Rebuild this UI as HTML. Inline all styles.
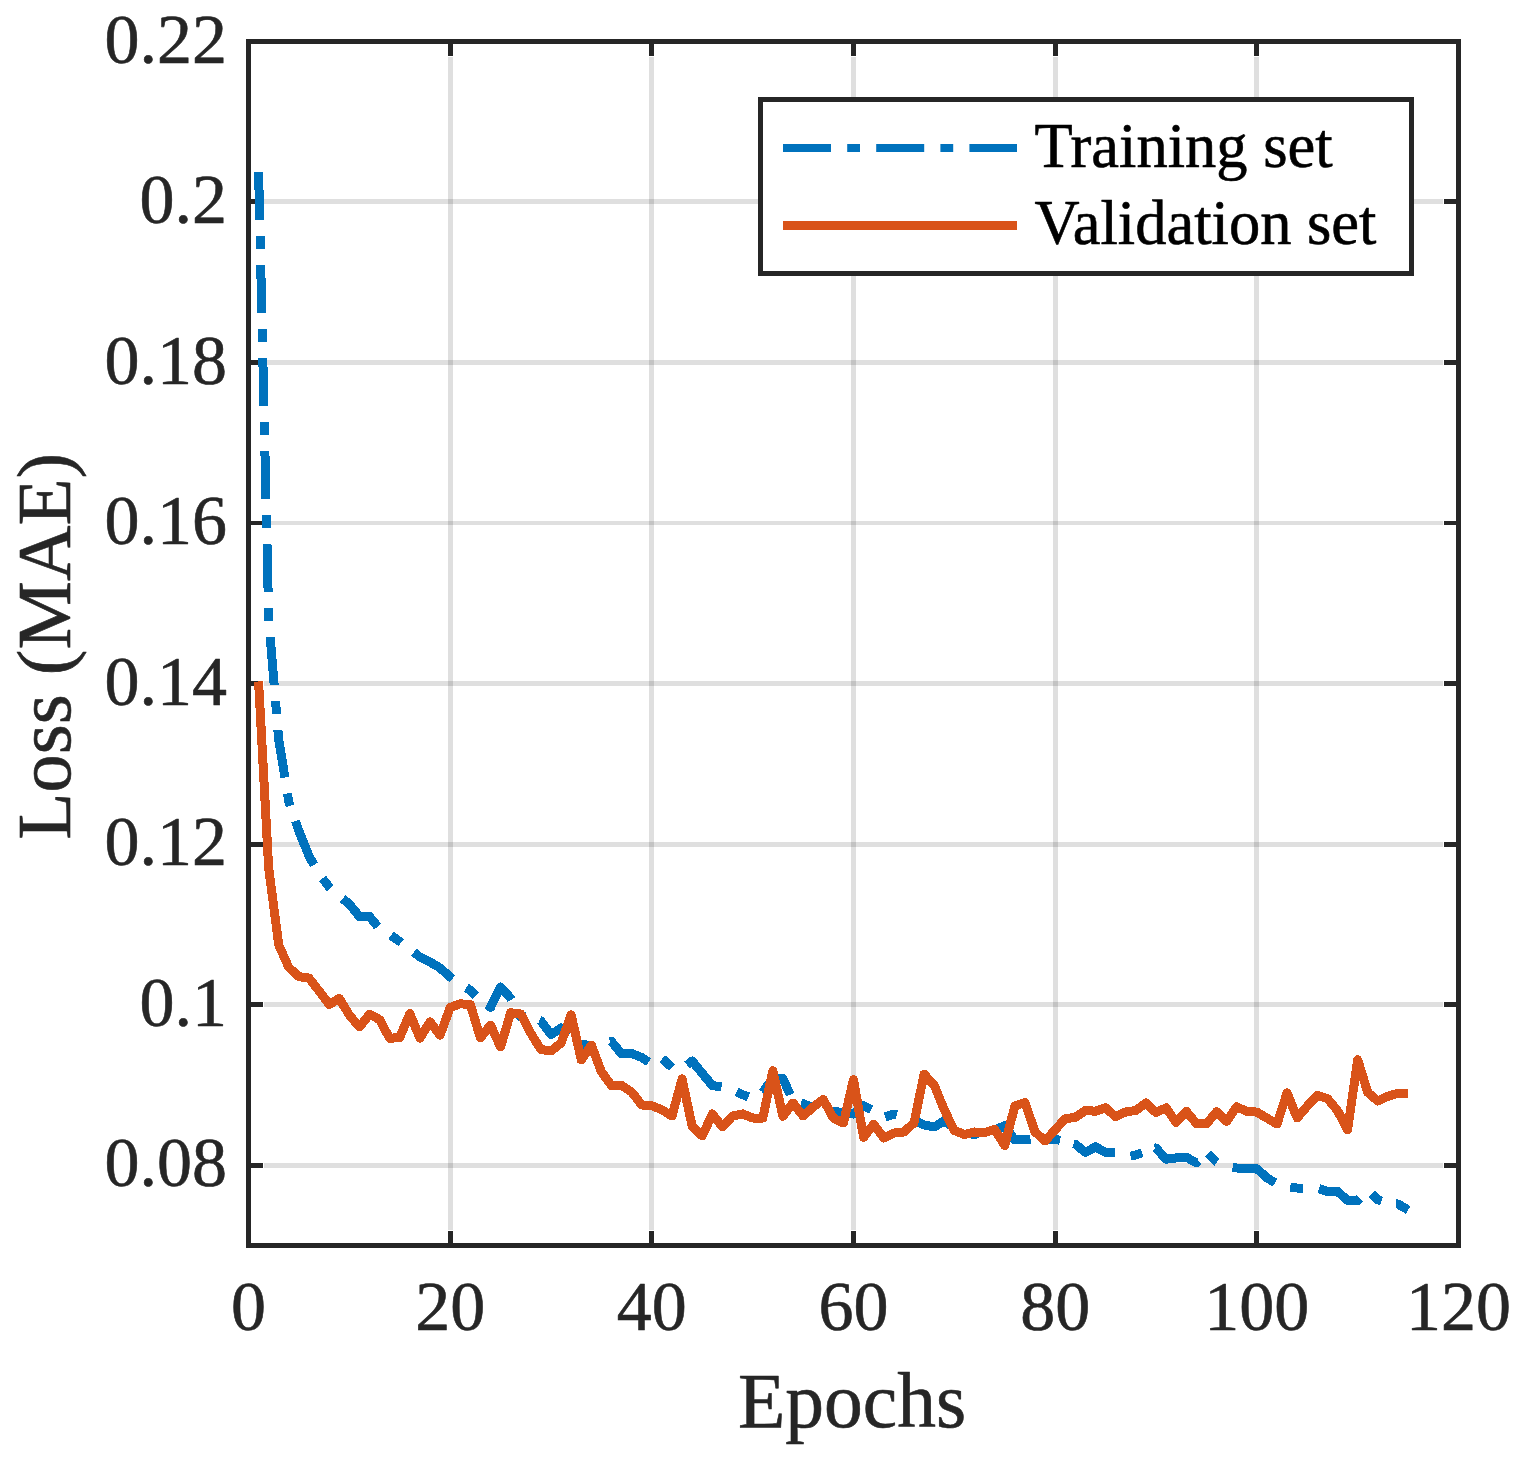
<!DOCTYPE html>
<html><head><meta charset="utf-8"><title>Loss curve</title>
<style>html,body{margin:0;padding:0;background:#fff;}svg{display:block;}</style>
</head><body>
<svg width="1519" height="1457" viewBox="0 0 1519 1457">
<rect x="0" y="0" width="1519" height="1457" fill="#fff"/>
<g fill="#262626" fill-opacity="0.15" shape-rendering="crispEdges"><rect x="264" y="199" width="1179" height="5"/><rect x="264" y="360" width="1179" height="5"/><rect x="264" y="521" width="1179" height="4"/><rect x="264" y="681" width="1179" height="5"/><rect x="264" y="842" width="1179" height="5"/><rect x="264" y="1002" width="1179" height="5"/><rect x="264" y="1163" width="1179" height="5"/><rect x="448" y="57" width="5" height="1173"/><rect x="649" y="57" width="5" height="1173"/><rect x="851" y="57" width="5" height="1173"/><rect x="1053" y="57" width="5" height="1173"/><rect x="1254" y="57" width="5" height="1173"/></g>
<g fill="#262626" shape-rendering="crispEdges"><rect x="448" y="44" width="5" height="12"/><rect x="448" y="1231" width="5" height="12"/><rect x="649" y="44" width="5" height="12"/><rect x="649" y="1231" width="5" height="12"/><rect x="851" y="44" width="5" height="12"/><rect x="851" y="1231" width="5" height="12"/><rect x="1053" y="44" width="5" height="12"/><rect x="1053" y="1231" width="5" height="12"/><rect x="1254" y="44" width="5" height="12"/><rect x="1254" y="1231" width="5" height="12"/><rect x="251" y="199" width="12" height="5"/><rect x="1444" y="199" width="12" height="5"/><rect x="251" y="360" width="12" height="5"/><rect x="1444" y="360" width="12" height="5"/><rect x="251" y="521" width="12" height="4"/><rect x="1444" y="521" width="12" height="4"/><rect x="251" y="681" width="12" height="5"/><rect x="1444" y="681" width="12" height="5"/><rect x="251" y="842" width="12" height="5"/><rect x="1444" y="842" width="12" height="5"/><rect x="251" y="1002" width="12" height="5"/><rect x="1444" y="1002" width="12" height="5"/><rect x="251" y="1163" width="12" height="5"/><rect x="1444" y="1163" width="12" height="5"/><rect x="246" y="39" width="1215" height="5"/><rect x="246" y="1243" width="1215" height="5"/><rect x="246" y="39" width="5" height="1209"/><rect x="1456" y="39" width="5" height="1209"/></g>
<path d="M258.6 172.0L259.7 219.8M260.0 235.9L260.3 248.7M260.7 264.9L261.8 313.0M262.1 329.2L262.4 342.0M262.8 358.2L263.9 406.0M264.2 422.2L264.5 435.0M264.9 451.1L266.0 499.0M266.3 515.1L266.6 527.9M267.0 544.0L268.1 591.9M268.4 608.1L268.7 618.0L268.9 620.9M270.2 637.1L274.2 684.9M275.5 701.1L276.6 713.9M277.9 730.0L278.8 740.0L284.9 777.5M287.5 793.5L288.8 802.0L290.2 805.9M295.5 821.1L298.9 831.0L309.0 856.0L314.0 864.9M322.5 878.4L329.2 887.0L330.5 888.2M342.7 898.7L349.3 904.0L359.4 916.5L369.5 916.5L377.7 926.6M390.9 935.4L399.8 941.5L401.2 942.6M413.9 952.2L419.9 957.0L430.0 962.0L440.1 968.0L450.2 977.0L452.5 978.6M466.3 987.8L470.3 990.3L475.8 995.7M487.1 1005.1L490.5 1007.5L500.6 987.0L510.7 998.3L511.4 999.6M518.0 1011.9L520.8 1017.0L526.1 1016.9M539.4 1020.4L540.9 1021.0L551.0 1034.7L561.1 1027.9L569.8 1033.8M581.9 1044.4L591.3 1045.7L594.6 1045.5M610.3 1041.9L611.5 1041.5L621.6 1054.0L631.7 1053.5L641.8 1057.5L648.7 1062.1M662.3 1058.7L671.9 1067.4M687.1 1065.0L692.2 1061.0L702.2 1073.3L712.3 1085.5L721.6 1086.9M736.8 1091.8L742.6 1094.6L748.4 1096.9M762.4 1092.5L762.8 1092.3L772.8 1078.0L782.9 1078.5L790.2 1094.7M801.0 1103.0L803.1 1103.5L812.4 1107.7M828.1 1110.6L833.3 1111.2L843.4 1112.6L853.5 1114.0L863.6 1105.7L871.3 1109.8M885.1 1117.0L893.8 1114.0L896.9 1114.8M911.6 1119.3L914.0 1120.1L924.1 1124.9L934.2 1127.0L944.2 1120.8L952.3 1126.6M966.1 1133.3L974.5 1134.5L978.1 1133.6M993.2 1130.3L994.7 1130.0L1004.8 1125.6L1014.8 1140.0L1024.9 1139.3L1030.5 1139.1M1047.8 1139.8L1055.2 1139.3L1060.0 1140.3M1073.7 1143.7L1075.3 1144.1L1085.4 1152.4L1095.5 1146.9L1105.6 1152.4L1115.0 1153.0M1130.5 1156.3L1135.8 1155.0L1142.0 1152.9M1155.1 1148.3L1156.0 1148.0L1166.1 1159.2L1176.2 1157.9L1186.2 1157.2L1196.3 1162.7L1198.0 1161.0M1207.9 1153.5L1216.5 1162.0L1216.8 1162.2M1232.6 1167.6L1236.7 1168.0L1246.8 1168.7L1256.8 1168.7L1266.9 1177.8L1275.1 1182.8M1290.3 1187.3L1297.2 1188.0L1303.0 1188.0M1319.0 1188.6L1327.4 1191.4L1337.5 1191.4L1347.6 1200.4L1357.7 1200.4L1359.9 1198.2M1371.6 1193.9L1377.8 1199.7L1381.5 1201.1M1396.1 1203.9L1398.0 1204.0L1408.1 1210.0" fill="none" stroke="#0072BD" stroke-width="9" stroke-linejoin="round" stroke-linecap="butt" shape-rendering="crispEdges"/>
<path d="M274.25 740.00a4.5 4.5 0 1 0 9.0 0a4.5 4.5 0 1 0 -9.0 0M294.42 831.00a4.5 4.5 0 1 0 9.0 0a4.5 4.5 0 1 0 -9.0 0M304.50 856.00a4.5 4.5 0 1 0 9.0 0a4.5 4.5 0 1 0 -9.0 0M344.83 904.00a4.5 4.5 0 1 0 9.0 0a4.5 4.5 0 1 0 -9.0 0M354.92 916.50a4.5 4.5 0 1 0 9.0 0a4.5 4.5 0 1 0 -9.0 0M365.00 916.50a4.5 4.5 0 1 0 9.0 0a4.5 4.5 0 1 0 -9.0 0M415.42 957.00a4.5 4.5 0 1 0 9.0 0a4.5 4.5 0 1 0 -9.0 0M425.50 962.00a4.5 4.5 0 1 0 9.0 0a4.5 4.5 0 1 0 -9.0 0M435.58 968.00a4.5 4.5 0 1 0 9.0 0a4.5 4.5 0 1 0 -9.0 0M465.83 990.30a4.5 4.5 0 1 0 9.0 0a4.5 4.5 0 1 0 -9.0 0M496.08 987.00a4.5 4.5 0 1 0 9.0 0a4.5 4.5 0 1 0 -9.0 0M516.25 1017.00a4.5 4.5 0 1 0 9.0 0a4.5 4.5 0 1 0 -9.0 0M546.50 1034.70a4.5 4.5 0 1 0 9.0 0a4.5 4.5 0 1 0 -9.0 0M556.58 1027.90a4.5 4.5 0 1 0 9.0 0a4.5 4.5 0 1 0 -9.0 0M617.08 1054.00a4.5 4.5 0 1 0 9.0 0a4.5 4.5 0 1 0 -9.0 0M627.17 1053.50a4.5 4.5 0 1 0 9.0 0a4.5 4.5 0 1 0 -9.0 0M637.25 1057.50a4.5 4.5 0 1 0 9.0 0a4.5 4.5 0 1 0 -9.0 0M687.67 1061.00a4.5 4.5 0 1 0 9.0 0a4.5 4.5 0 1 0 -9.0 0M697.75 1073.30a4.5 4.5 0 1 0 9.0 0a4.5 4.5 0 1 0 -9.0 0M707.83 1085.50a4.5 4.5 0 1 0 9.0 0a4.5 4.5 0 1 0 -9.0 0M738.08 1094.60a4.5 4.5 0 1 0 9.0 0a4.5 4.5 0 1 0 -9.0 0M768.33 1078.00a4.5 4.5 0 1 0 9.0 0a4.5 4.5 0 1 0 -9.0 0M778.42 1078.50a4.5 4.5 0 1 0 9.0 0a4.5 4.5 0 1 0 -9.0 0M828.83 1111.20a4.5 4.5 0 1 0 9.0 0a4.5 4.5 0 1 0 -9.0 0M838.92 1112.60a4.5 4.5 0 1 0 9.0 0a4.5 4.5 0 1 0 -9.0 0M849.00 1114.00a4.5 4.5 0 1 0 9.0 0a4.5 4.5 0 1 0 -9.0 0M859.08 1105.70a4.5 4.5 0 1 0 9.0 0a4.5 4.5 0 1 0 -9.0 0M919.58 1124.90a4.5 4.5 0 1 0 9.0 0a4.5 4.5 0 1 0 -9.0 0M929.67 1127.00a4.5 4.5 0 1 0 9.0 0a4.5 4.5 0 1 0 -9.0 0M939.75 1120.80a4.5 4.5 0 1 0 9.0 0a4.5 4.5 0 1 0 -9.0 0M1000.25 1125.60a4.5 4.5 0 1 0 9.0 0a4.5 4.5 0 1 0 -9.0 0M1010.33 1140.00a4.5 4.5 0 1 0 9.0 0a4.5 4.5 0 1 0 -9.0 0M1020.42 1139.30a4.5 4.5 0 1 0 9.0 0a4.5 4.5 0 1 0 -9.0 0M1050.67 1139.30a4.5 4.5 0 1 0 9.0 0a4.5 4.5 0 1 0 -9.0 0M1080.92 1152.40a4.5 4.5 0 1 0 9.0 0a4.5 4.5 0 1 0 -9.0 0M1091.00 1146.90a4.5 4.5 0 1 0 9.0 0a4.5 4.5 0 1 0 -9.0 0M1101.08 1152.40a4.5 4.5 0 1 0 9.0 0a4.5 4.5 0 1 0 -9.0 0M1131.33 1155.00a4.5 4.5 0 1 0 9.0 0a4.5 4.5 0 1 0 -9.0 0M1161.58 1159.20a4.5 4.5 0 1 0 9.0 0a4.5 4.5 0 1 0 -9.0 0M1171.67 1157.90a4.5 4.5 0 1 0 9.0 0a4.5 4.5 0 1 0 -9.0 0M1181.75 1157.20a4.5 4.5 0 1 0 9.0 0a4.5 4.5 0 1 0 -9.0 0M1242.25 1168.70a4.5 4.5 0 1 0 9.0 0a4.5 4.5 0 1 0 -9.0 0M1252.33 1168.70a4.5 4.5 0 1 0 9.0 0a4.5 4.5 0 1 0 -9.0 0M1262.42 1177.80a4.5 4.5 0 1 0 9.0 0a4.5 4.5 0 1 0 -9.0 0M1292.67 1188.00a4.5 4.5 0 1 0 9.0 0a4.5 4.5 0 1 0 -9.0 0M1322.92 1191.40a4.5 4.5 0 1 0 9.0 0a4.5 4.5 0 1 0 -9.0 0M1333.00 1191.40a4.5 4.5 0 1 0 9.0 0a4.5 4.5 0 1 0 -9.0 0M1343.08 1200.40a4.5 4.5 0 1 0 9.0 0a4.5 4.5 0 1 0 -9.0 0" fill="#0072BD" shape-rendering="crispEdges"/>
<polyline points="258.58,681.50 268.67,868.00 278.75,945.00 288.83,967.50 298.92,976.60 309.00,978.10 319.08,991.00 329.17,1004.50 339.25,998.50 349.33,1015.00 359.42,1027.00 369.50,1014.30 379.58,1019.60 389.67,1038.30 399.75,1037.50 409.83,1013.60 419.92,1038.20 430.00,1021.90 440.08,1035.20 450.17,1007.50 460.25,1003.80 470.33,1004.50 480.42,1038.00 490.50,1025.10 500.58,1047.00 510.67,1012.80 520.75,1014.00 530.83,1033.30 540.92,1049.50 551.00,1051.00 561.08,1043.00 571.17,1014.80 581.25,1060.00 591.33,1045.00 601.42,1071.80 611.50,1085.50 621.58,1085.50 631.67,1092.00 641.75,1105.00 651.83,1105.70 661.92,1109.80 672.00,1116.00 682.08,1078.90 692.17,1126.30 702.25,1136.00 712.33,1113.90 722.42,1127.00 732.50,1116.00 742.58,1113.90 752.67,1118.00 762.75,1118.00 772.83,1070.70 782.92,1116.30 793.00,1103.00 803.08,1116.00 813.17,1107.10 823.25,1099.50 833.33,1118.00 843.42,1123.00 853.50,1079.60 863.58,1137.30 873.67,1124.20 883.75,1138.00 893.83,1133.00 903.92,1132.00 914.00,1122.90 924.08,1074.20 934.17,1085.10 944.25,1109.80 954.33,1130.50 964.42,1134.50 974.50,1132.00 984.58,1132.50 994.67,1129.50 1004.75,1145.40 1014.83,1106.00 1024.92,1102.50 1035.00,1131.80 1045.08,1141.00 1055.17,1129.70 1065.25,1118.70 1075.33,1117.40 1085.42,1110.50 1095.50,1111.20 1105.58,1107.80 1115.67,1116.70 1125.75,1111.90 1135.83,1110.50 1145.92,1103.00 1156.00,1112.60 1166.08,1107.80 1176.17,1122.50 1186.25,1111.20 1196.33,1123.50 1206.42,1124.00 1216.50,1111.80 1226.58,1121.40 1236.67,1106.80 1246.75,1111.40 1256.83,1112.10 1266.92,1118.10 1277.00,1124.00 1287.08,1092.80 1297.17,1118.00 1307.25,1106.10 1317.33,1095.50 1327.42,1098.50 1337.50,1110.60 1347.58,1130.00 1357.67,1059.80 1367.75,1092.50 1377.83,1101.00 1387.92,1096.30 1398.00,1093.20 1408.08,1093.20" fill="none" stroke="#D95319" stroke-width="9" stroke-linejoin="round" stroke-linecap="butt" shape-rendering="crispEdges"/>
<path d="M264.17 868.00a4.5 4.5 0 1 0 9.0 0a4.5 4.5 0 1 0 -9.0 0M274.25 945.00a4.5 4.5 0 1 0 9.0 0a4.5 4.5 0 1 0 -9.0 0M284.33 967.50a4.5 4.5 0 1 0 9.0 0a4.5 4.5 0 1 0 -9.0 0M294.42 976.60a4.5 4.5 0 1 0 9.0 0a4.5 4.5 0 1 0 -9.0 0M304.50 978.10a4.5 4.5 0 1 0 9.0 0a4.5 4.5 0 1 0 -9.0 0M314.58 991.00a4.5 4.5 0 1 0 9.0 0a4.5 4.5 0 1 0 -9.0 0M324.67 1004.50a4.5 4.5 0 1 0 9.0 0a4.5 4.5 0 1 0 -9.0 0M334.75 998.50a4.5 4.5 0 1 0 9.0 0a4.5 4.5 0 1 0 -9.0 0M344.83 1015.00a4.5 4.5 0 1 0 9.0 0a4.5 4.5 0 1 0 -9.0 0M354.92 1027.00a4.5 4.5 0 1 0 9.0 0a4.5 4.5 0 1 0 -9.0 0M365.00 1014.30a4.5 4.5 0 1 0 9.0 0a4.5 4.5 0 1 0 -9.0 0M375.08 1019.60a4.5 4.5 0 1 0 9.0 0a4.5 4.5 0 1 0 -9.0 0M385.17 1038.30a4.5 4.5 0 1 0 9.0 0a4.5 4.5 0 1 0 -9.0 0M395.25 1037.50a4.5 4.5 0 1 0 9.0 0a4.5 4.5 0 1 0 -9.0 0M405.33 1013.60a4.5 4.5 0 1 0 9.0 0a4.5 4.5 0 1 0 -9.0 0M415.42 1038.20a4.5 4.5 0 1 0 9.0 0a4.5 4.5 0 1 0 -9.0 0M425.50 1021.90a4.5 4.5 0 1 0 9.0 0a4.5 4.5 0 1 0 -9.0 0M435.58 1035.20a4.5 4.5 0 1 0 9.0 0a4.5 4.5 0 1 0 -9.0 0M445.67 1007.50a4.5 4.5 0 1 0 9.0 0a4.5 4.5 0 1 0 -9.0 0M455.75 1003.80a4.5 4.5 0 1 0 9.0 0a4.5 4.5 0 1 0 -9.0 0M465.83 1004.50a4.5 4.5 0 1 0 9.0 0a4.5 4.5 0 1 0 -9.0 0M475.92 1038.00a4.5 4.5 0 1 0 9.0 0a4.5 4.5 0 1 0 -9.0 0M486.00 1025.10a4.5 4.5 0 1 0 9.0 0a4.5 4.5 0 1 0 -9.0 0M496.08 1047.00a4.5 4.5 0 1 0 9.0 0a4.5 4.5 0 1 0 -9.0 0M506.17 1012.80a4.5 4.5 0 1 0 9.0 0a4.5 4.5 0 1 0 -9.0 0M516.25 1014.00a4.5 4.5 0 1 0 9.0 0a4.5 4.5 0 1 0 -9.0 0M526.33 1033.30a4.5 4.5 0 1 0 9.0 0a4.5 4.5 0 1 0 -9.0 0M536.42 1049.50a4.5 4.5 0 1 0 9.0 0a4.5 4.5 0 1 0 -9.0 0M546.50 1051.00a4.5 4.5 0 1 0 9.0 0a4.5 4.5 0 1 0 -9.0 0M556.58 1043.00a4.5 4.5 0 1 0 9.0 0a4.5 4.5 0 1 0 -9.0 0M566.67 1014.80a4.5 4.5 0 1 0 9.0 0a4.5 4.5 0 1 0 -9.0 0M576.75 1060.00a4.5 4.5 0 1 0 9.0 0a4.5 4.5 0 1 0 -9.0 0M586.83 1045.00a4.5 4.5 0 1 0 9.0 0a4.5 4.5 0 1 0 -9.0 0M596.92 1071.80a4.5 4.5 0 1 0 9.0 0a4.5 4.5 0 1 0 -9.0 0M607.00 1085.50a4.5 4.5 0 1 0 9.0 0a4.5 4.5 0 1 0 -9.0 0M617.08 1085.50a4.5 4.5 0 1 0 9.0 0a4.5 4.5 0 1 0 -9.0 0M627.17 1092.00a4.5 4.5 0 1 0 9.0 0a4.5 4.5 0 1 0 -9.0 0M637.25 1105.00a4.5 4.5 0 1 0 9.0 0a4.5 4.5 0 1 0 -9.0 0M647.33 1105.70a4.5 4.5 0 1 0 9.0 0a4.5 4.5 0 1 0 -9.0 0M657.42 1109.80a4.5 4.5 0 1 0 9.0 0a4.5 4.5 0 1 0 -9.0 0M667.50 1116.00a4.5 4.5 0 1 0 9.0 0a4.5 4.5 0 1 0 -9.0 0M677.58 1078.90a4.5 4.5 0 1 0 9.0 0a4.5 4.5 0 1 0 -9.0 0M687.67 1126.30a4.5 4.5 0 1 0 9.0 0a4.5 4.5 0 1 0 -9.0 0M697.75 1136.00a4.5 4.5 0 1 0 9.0 0a4.5 4.5 0 1 0 -9.0 0M707.83 1113.90a4.5 4.5 0 1 0 9.0 0a4.5 4.5 0 1 0 -9.0 0M717.92 1127.00a4.5 4.5 0 1 0 9.0 0a4.5 4.5 0 1 0 -9.0 0M728.00 1116.00a4.5 4.5 0 1 0 9.0 0a4.5 4.5 0 1 0 -9.0 0M738.08 1113.90a4.5 4.5 0 1 0 9.0 0a4.5 4.5 0 1 0 -9.0 0M748.17 1118.00a4.5 4.5 0 1 0 9.0 0a4.5 4.5 0 1 0 -9.0 0M758.25 1118.00a4.5 4.5 0 1 0 9.0 0a4.5 4.5 0 1 0 -9.0 0M768.33 1070.70a4.5 4.5 0 1 0 9.0 0a4.5 4.5 0 1 0 -9.0 0M778.42 1116.30a4.5 4.5 0 1 0 9.0 0a4.5 4.5 0 1 0 -9.0 0M788.50 1103.00a4.5 4.5 0 1 0 9.0 0a4.5 4.5 0 1 0 -9.0 0M798.58 1116.00a4.5 4.5 0 1 0 9.0 0a4.5 4.5 0 1 0 -9.0 0M808.67 1107.10a4.5 4.5 0 1 0 9.0 0a4.5 4.5 0 1 0 -9.0 0M818.75 1099.50a4.5 4.5 0 1 0 9.0 0a4.5 4.5 0 1 0 -9.0 0M828.83 1118.00a4.5 4.5 0 1 0 9.0 0a4.5 4.5 0 1 0 -9.0 0M838.92 1123.00a4.5 4.5 0 1 0 9.0 0a4.5 4.5 0 1 0 -9.0 0M849.00 1079.60a4.5 4.5 0 1 0 9.0 0a4.5 4.5 0 1 0 -9.0 0M859.08 1137.30a4.5 4.5 0 1 0 9.0 0a4.5 4.5 0 1 0 -9.0 0M869.17 1124.20a4.5 4.5 0 1 0 9.0 0a4.5 4.5 0 1 0 -9.0 0M879.25 1138.00a4.5 4.5 0 1 0 9.0 0a4.5 4.5 0 1 0 -9.0 0M889.33 1133.00a4.5 4.5 0 1 0 9.0 0a4.5 4.5 0 1 0 -9.0 0M899.42 1132.00a4.5 4.5 0 1 0 9.0 0a4.5 4.5 0 1 0 -9.0 0M909.50 1122.90a4.5 4.5 0 1 0 9.0 0a4.5 4.5 0 1 0 -9.0 0M919.58 1074.20a4.5 4.5 0 1 0 9.0 0a4.5 4.5 0 1 0 -9.0 0M929.67 1085.10a4.5 4.5 0 1 0 9.0 0a4.5 4.5 0 1 0 -9.0 0M939.75 1109.80a4.5 4.5 0 1 0 9.0 0a4.5 4.5 0 1 0 -9.0 0M949.83 1130.50a4.5 4.5 0 1 0 9.0 0a4.5 4.5 0 1 0 -9.0 0M959.92 1134.50a4.5 4.5 0 1 0 9.0 0a4.5 4.5 0 1 0 -9.0 0M970.00 1132.00a4.5 4.5 0 1 0 9.0 0a4.5 4.5 0 1 0 -9.0 0M980.08 1132.50a4.5 4.5 0 1 0 9.0 0a4.5 4.5 0 1 0 -9.0 0M990.17 1129.50a4.5 4.5 0 1 0 9.0 0a4.5 4.5 0 1 0 -9.0 0M1000.25 1145.40a4.5 4.5 0 1 0 9.0 0a4.5 4.5 0 1 0 -9.0 0M1010.33 1106.00a4.5 4.5 0 1 0 9.0 0a4.5 4.5 0 1 0 -9.0 0M1020.42 1102.50a4.5 4.5 0 1 0 9.0 0a4.5 4.5 0 1 0 -9.0 0M1030.50 1131.80a4.5 4.5 0 1 0 9.0 0a4.5 4.5 0 1 0 -9.0 0M1040.58 1141.00a4.5 4.5 0 1 0 9.0 0a4.5 4.5 0 1 0 -9.0 0M1050.67 1129.70a4.5 4.5 0 1 0 9.0 0a4.5 4.5 0 1 0 -9.0 0M1060.75 1118.70a4.5 4.5 0 1 0 9.0 0a4.5 4.5 0 1 0 -9.0 0M1070.83 1117.40a4.5 4.5 0 1 0 9.0 0a4.5 4.5 0 1 0 -9.0 0M1080.92 1110.50a4.5 4.5 0 1 0 9.0 0a4.5 4.5 0 1 0 -9.0 0M1091.00 1111.20a4.5 4.5 0 1 0 9.0 0a4.5 4.5 0 1 0 -9.0 0M1101.08 1107.80a4.5 4.5 0 1 0 9.0 0a4.5 4.5 0 1 0 -9.0 0M1111.17 1116.70a4.5 4.5 0 1 0 9.0 0a4.5 4.5 0 1 0 -9.0 0M1121.25 1111.90a4.5 4.5 0 1 0 9.0 0a4.5 4.5 0 1 0 -9.0 0M1131.33 1110.50a4.5 4.5 0 1 0 9.0 0a4.5 4.5 0 1 0 -9.0 0M1141.42 1103.00a4.5 4.5 0 1 0 9.0 0a4.5 4.5 0 1 0 -9.0 0M1151.50 1112.60a4.5 4.5 0 1 0 9.0 0a4.5 4.5 0 1 0 -9.0 0M1161.58 1107.80a4.5 4.5 0 1 0 9.0 0a4.5 4.5 0 1 0 -9.0 0M1171.67 1122.50a4.5 4.5 0 1 0 9.0 0a4.5 4.5 0 1 0 -9.0 0M1181.75 1111.20a4.5 4.5 0 1 0 9.0 0a4.5 4.5 0 1 0 -9.0 0M1191.83 1123.50a4.5 4.5 0 1 0 9.0 0a4.5 4.5 0 1 0 -9.0 0M1201.92 1124.00a4.5 4.5 0 1 0 9.0 0a4.5 4.5 0 1 0 -9.0 0M1212.00 1111.80a4.5 4.5 0 1 0 9.0 0a4.5 4.5 0 1 0 -9.0 0M1222.08 1121.40a4.5 4.5 0 1 0 9.0 0a4.5 4.5 0 1 0 -9.0 0M1232.17 1106.80a4.5 4.5 0 1 0 9.0 0a4.5 4.5 0 1 0 -9.0 0M1242.25 1111.40a4.5 4.5 0 1 0 9.0 0a4.5 4.5 0 1 0 -9.0 0M1252.33 1112.10a4.5 4.5 0 1 0 9.0 0a4.5 4.5 0 1 0 -9.0 0M1262.42 1118.10a4.5 4.5 0 1 0 9.0 0a4.5 4.5 0 1 0 -9.0 0M1272.50 1124.00a4.5 4.5 0 1 0 9.0 0a4.5 4.5 0 1 0 -9.0 0M1282.58 1092.80a4.5 4.5 0 1 0 9.0 0a4.5 4.5 0 1 0 -9.0 0M1292.67 1118.00a4.5 4.5 0 1 0 9.0 0a4.5 4.5 0 1 0 -9.0 0M1302.75 1106.10a4.5 4.5 0 1 0 9.0 0a4.5 4.5 0 1 0 -9.0 0M1312.83 1095.50a4.5 4.5 0 1 0 9.0 0a4.5 4.5 0 1 0 -9.0 0M1322.92 1098.50a4.5 4.5 0 1 0 9.0 0a4.5 4.5 0 1 0 -9.0 0M1333.00 1110.60a4.5 4.5 0 1 0 9.0 0a4.5 4.5 0 1 0 -9.0 0M1343.08 1130.00a4.5 4.5 0 1 0 9.0 0a4.5 4.5 0 1 0 -9.0 0M1353.17 1059.80a4.5 4.5 0 1 0 9.0 0a4.5 4.5 0 1 0 -9.0 0M1363.25 1092.50a4.5 4.5 0 1 0 9.0 0a4.5 4.5 0 1 0 -9.0 0M1373.33 1101.00a4.5 4.5 0 1 0 9.0 0a4.5 4.5 0 1 0 -9.0 0M1383.42 1096.30a4.5 4.5 0 1 0 9.0 0a4.5 4.5 0 1 0 -9.0 0M1393.50 1093.20a4.5 4.5 0 1 0 9.0 0a4.5 4.5 0 1 0 -9.0 0" fill="#D95319" shape-rendering="crispEdges"/>
<text x="227" y="1186.23" font-family="'Liberation Serif', serif" font-size="70" fill="#262626" stroke="#262626" stroke-width="0.6" stroke-linejoin="round" text-anchor="end">0.08</text>
<text x="227" y="1025.70" font-family="'Liberation Serif', serif" font-size="70" fill="#262626" stroke="#262626" stroke-width="0.6" stroke-linejoin="round" text-anchor="end">0.1</text>
<text x="227" y="865.17" font-family="'Liberation Serif', serif" font-size="70" fill="#262626" stroke="#262626" stroke-width="0.6" stroke-linejoin="round" text-anchor="end">0.12</text>
<text x="227" y="704.63" font-family="'Liberation Serif', serif" font-size="70" fill="#262626" stroke="#262626" stroke-width="0.6" stroke-linejoin="round" text-anchor="end">0.14</text>
<text x="227" y="544.10" font-family="'Liberation Serif', serif" font-size="70" fill="#262626" stroke="#262626" stroke-width="0.6" stroke-linejoin="round" text-anchor="end">0.16</text>
<text x="227" y="383.57" font-family="'Liberation Serif', serif" font-size="70" fill="#262626" stroke="#262626" stroke-width="0.6" stroke-linejoin="round" text-anchor="end">0.18</text>
<text x="227" y="223.03" font-family="'Liberation Serif', serif" font-size="70" fill="#262626" stroke="#262626" stroke-width="0.6" stroke-linejoin="round" text-anchor="end">0.2</text>
<text x="227" y="62.50" font-family="'Liberation Serif', serif" font-size="70" fill="#262626" stroke="#262626" stroke-width="0.6" stroke-linejoin="round" text-anchor="end">0.22</text>
<text x="248.50" y="1330" font-family="'Liberation Serif', serif" font-size="70" fill="#262626" stroke="#262626" stroke-width="0.6" stroke-linejoin="round" text-anchor="middle">0</text>
<text x="450.17" y="1330" font-family="'Liberation Serif', serif" font-size="70" fill="#262626" stroke="#262626" stroke-width="0.6" stroke-linejoin="round" text-anchor="middle">20</text>
<text x="651.83" y="1330" font-family="'Liberation Serif', serif" font-size="70" fill="#262626" stroke="#262626" stroke-width="0.6" stroke-linejoin="round" text-anchor="middle">40</text>
<text x="853.50" y="1330" font-family="'Liberation Serif', serif" font-size="70" fill="#262626" stroke="#262626" stroke-width="0.6" stroke-linejoin="round" text-anchor="middle">60</text>
<text x="1055.17" y="1330" font-family="'Liberation Serif', serif" font-size="70" fill="#262626" stroke="#262626" stroke-width="0.6" stroke-linejoin="round" text-anchor="middle">80</text>
<text x="1256.83" y="1330" font-family="'Liberation Serif', serif" font-size="70" fill="#262626" stroke="#262626" stroke-width="0.6" stroke-linejoin="round" text-anchor="middle">100</text>
<text x="1458.50" y="1330" font-family="'Liberation Serif', serif" font-size="70" fill="#262626" stroke="#262626" stroke-width="0.6" stroke-linejoin="round" text-anchor="middle">120</text>
<text x="852" y="1427" font-family="'Liberation Serif', serif" font-size="77.5" fill="#262626" stroke="#262626" stroke-width="0.6" stroke-linejoin="round" text-anchor="middle">Epochs</text>
<text transform="translate(69.7 646.3) rotate(-90)" x="0" y="0" font-family="'Liberation Serif', serif" font-size="77" fill="#262626" stroke="#262626" stroke-width="0.6" stroke-linejoin="round" text-anchor="middle">Loss (MAE)</text>
<rect x="760.5" y="99.5" width="651" height="174" fill="#fff" stroke="#262626" stroke-width="5"/>
<path d="M783 148H1017" stroke="#0072BD" stroke-width="8" stroke-dasharray="48 16.2 12.8 16.2" fill="none"/>
<path d="M783 225.5H1017" stroke="#D95319" stroke-width="9" fill="none"/>
<text x="1034.5" y="167" font-family="'Liberation Serif', serif" font-size="62.5" fill="#000" stroke="#000" stroke-width="0.6" stroke-linejoin="round">Training set</text>
<text x="1034.5" y="244" font-family="'Liberation Serif', serif" font-size="62.5" fill="#000" stroke="#000" stroke-width="0.6" stroke-linejoin="round">Validation set</text>
</svg>
</body></html>
